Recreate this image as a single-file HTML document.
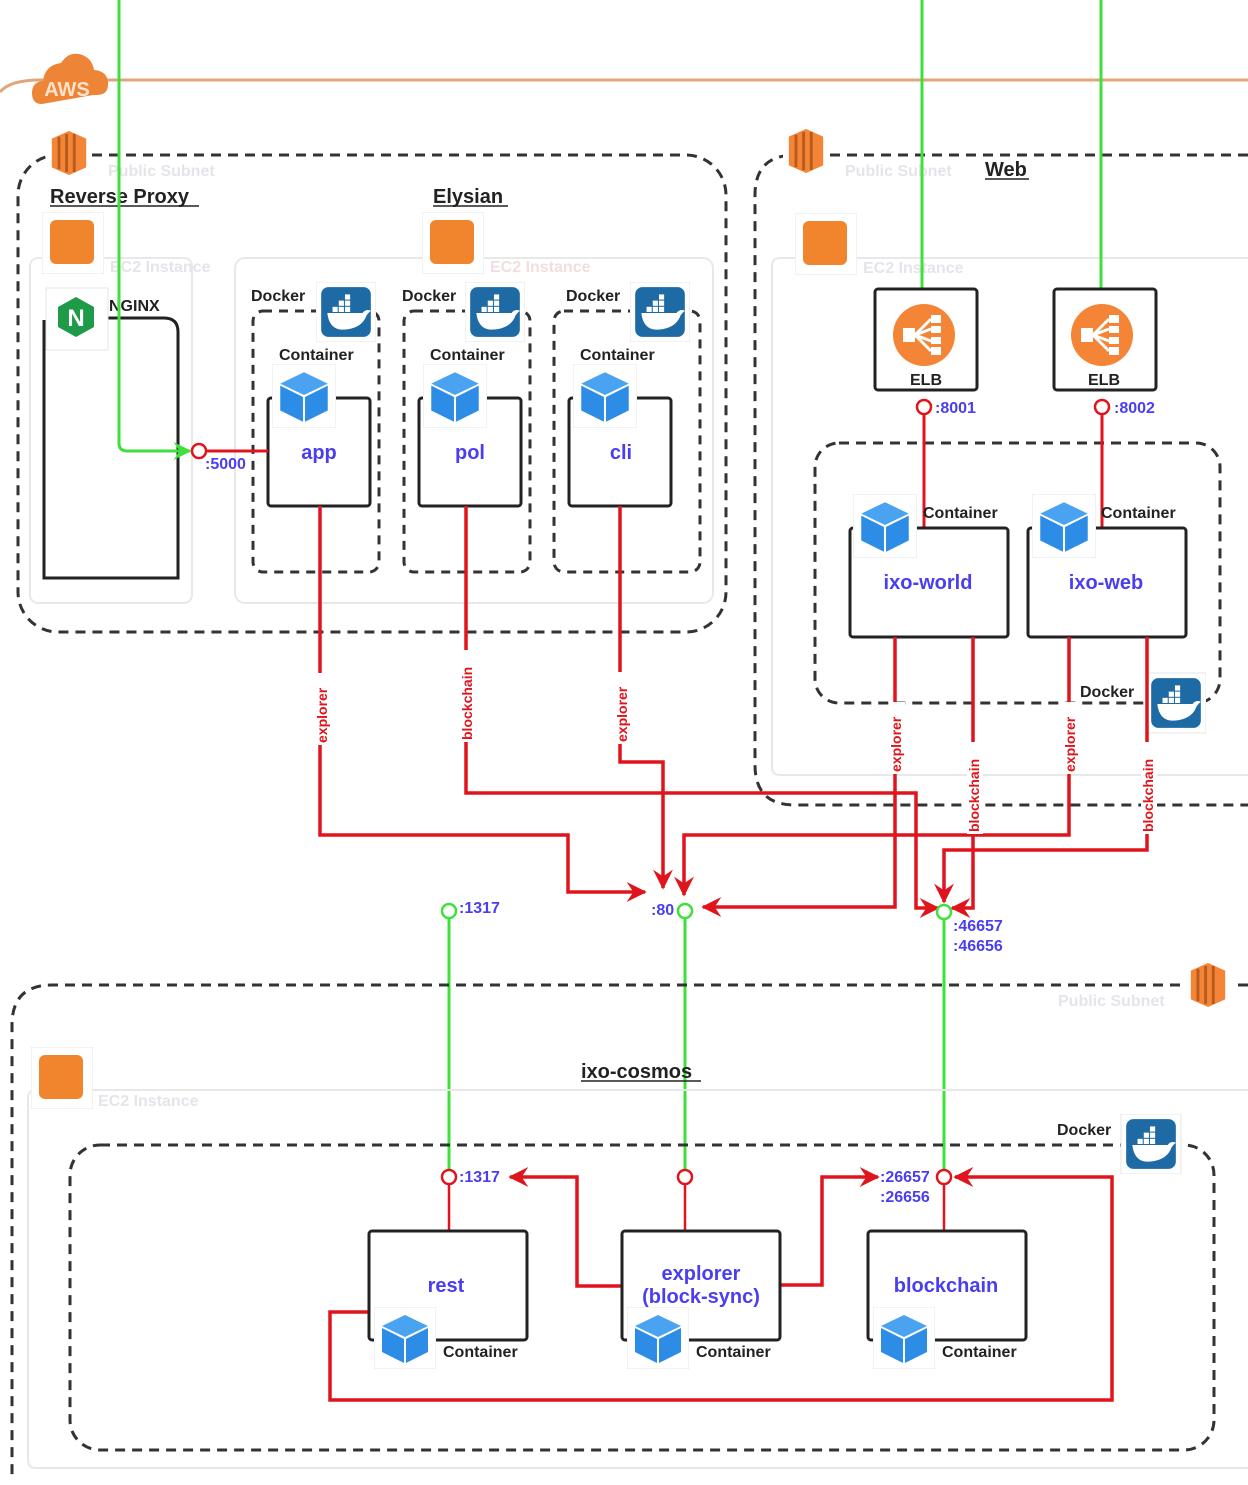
<!DOCTYPE html>
<html><head><meta charset="utf-8"><style>
html,body{margin:0;padding:0;background:#fff}
svg text{font-family:"Liberation Sans",Arial,sans-serif}
</style></head><body>
<svg width="1248" height="1480" viewBox="0 0 1248 1480" xmlns="http://www.w3.org/2000/svg">
<defs>
<symbol id="cube" viewBox="0 0 62 62">
<rect x="0" y="0" width="62" height="62" fill="#fff" stroke="#e6e6e6"/>
<polygon points="31,8 54,19 31,30 8,19" fill="#4aa3f0"/>
<polygon points="8,21 30,32 30,56 8,45" fill="#2d8de6"/>
<polygon points="32,32 54,21 54,45 32,56" fill="#2d8de6"/>
</symbol>
<symbol id="dock" viewBox="0 0 58 58">
<rect x="0" y="0" width="58" height="58" fill="#fff" stroke="#e6e6e6"/>
<rect x="5" y="5" width="48" height="48" rx="7" fill="#1d6aa5"/>
<path d="M11 30 h34 c3 -4 7 -3 8 -2 c-2 1 -3 3 -4 4 c-4 11 -14 14 -24 14 c-8 0 -13 -6 -14 -16z" fill="#fff"/>
<rect x="16" y="24" width="5" height="5" fill="#fff"/><rect x="22" y="24" width="5" height="5" fill="#fff"/><rect x="28" y="24" width="5" height="5" fill="#fff"/><rect x="22" y="18" width="5" height="5" fill="#fff"/><rect x="28" y="18" width="5" height="5" fill="#fff"/><rect x="28" y="12" width="5" height="5" fill="#fff"/>
</symbol>
<symbol id="ec2" viewBox="0 0 62 62">
<rect x="0" y="0" width="62" height="62" fill="#fff" stroke="#e6e6e6"/>
<rect x="8" y="8" width="44" height="44" rx="6" fill="#f0852d"/>
</symbol>
<symbol id="sub" viewBox="0 0 44 46">
<polygon points="4,8 22,0 40,8 40,38 22,46 4,38" fill="#f58536"/>
<rect x="10" y="6" width="3" height="34" fill="#b75a1c"/><rect x="18" y="3" width="3" height="40" fill="#b75a1c"/><rect x="26" y="3" width="3" height="40" fill="#b75a1c"/>
</symbol>
<symbol id="elb" viewBox="0 0 62 62">
<circle cx="31" cy="31" r="31" fill="#f58536"/>
<rect x="10" y="24" width="12" height="14" fill="#fff"/>
<path d="M22 31 L38 15 M22 31 L38 25 M22 31 L38 37 M22 31 L38 47" stroke="#fff" stroke-width="3"/>
<rect x="38" y="11" width="10" height="8" fill="#fff"/><rect x="38" y="22" width="10" height="7" fill="#fff"/><rect x="38" y="33" width="10" height="7" fill="#fff"/><rect x="38" y="43" width="10" height="8" fill="#fff"/>
</symbol>
<marker id="ar" viewBox="0 0 12 12" refX="11" refY="6" markerWidth="20" markerHeight="20" orient="auto" markerUnits="userSpaceOnUse"><path d="M0 0 L12 6 L0 12 L4 6z" fill="#e0141c"/></marker>
<marker id="ag" viewBox="0 0 12 12" refX="11" refY="6" markerWidth="18" markerHeight="18" orient="auto" markerUnits="userSpaceOnUse"><path d="M0 0 L12 6 L0 12 L4 6z" fill="#3ee03a"/></marker>
</defs>

<!-- AWS line -->
<path d="M0 92 Q10 80 40 80 L1248 80" stroke="#e0a57a" stroke-width="3" fill="none"/>
<path d="M42 104 q-10 0 -10 -11 q0 -11 11 -12 q2 -16 18 -18 q7 -11 18 -9 q13 3 15 16 q13 1 14 12 q1 13 -11 13 q-2 0 -4 0 z" fill="#ee8436"/>
<text x="67" y="96" font-size="20" font-weight="bold" fill="#fbe3cc" text-anchor="middle">AWS</text>

<!-- Left subnet -->
<rect x="18" y="155" width="708" height="477" rx="40" fill="none" stroke="#333" stroke-width="3" stroke-dasharray="10,7"/>
<rect x="30" y="258" width="162" height="345" rx="8" fill="none" stroke="#e8e8e8" stroke-width="2"/>
<rect x="235" y="258" width="478" height="345" rx="10" fill="none" stroke="#e8e8e8" stroke-width="2"/>
<rect x="46" y="130" width="46" height="46" fill="#fff"/>
<use href="#sub" x="48" y="130" width="42" height="46"/>
<text x="108" y="176" font-size="16" font-weight="bold" fill="#e4e4ea">Public Subnet</text>
<text x="50" y="203" font-size="20" font-weight="bold" fill="#222">Reverse Proxy</text>
<line x1="50" y1="206" x2="199" y2="206" stroke="#222" stroke-width="1.5"/>
<text x="433" y="203" font-size="20" font-weight="bold" fill="#222">Elysian</text>
<line x1="433" y1="206" x2="508" y2="206" stroke="#222" stroke-width="1.5"/>
<use href="#ec2" x="42" y="212" width="62" height="62"/>
<use href="#ec2" x="422" y="212" width="62" height="62"/>
<text x="110" y="272" font-size="16" font-weight="bold" fill="#e4e4ea">EC2 Instance</text>
<text x="490" y="272" font-size="16" font-weight="bold" fill="#f2dede">EC2 Instance</text>

<!-- NGINX -->
<path d="M44 320 L44 578 L178 578 L178 332 Q178 318 164 318 L108 318" fill="none" stroke="#222" stroke-width="3"/>
<rect x="46" y="288" width="62" height="62" fill="#fff" stroke="#e6e6e6"/>
<polygon points="76,297 94,307 94,327 76,337 58,327 58,307" fill="#1e9a48"/>
<text x="76" y="326" font-size="24" font-weight="bold" fill="#fff" text-anchor="middle">N</text>
<text x="109" y="311" font-size="16" font-weight="bold" fill="#222">NGINX</text>

<!-- Docker boxes -->
<g fill="none" stroke="#333" stroke-width="3" stroke-dasharray="9,7">
<rect x="253" y="311" width="126" height="261" rx="10"/>
<rect x="404" y="311" width="126" height="261" rx="10"/>
<rect x="554" y="311" width="146" height="261" rx="10"/>
</g>
<g font-size="16" font-weight="bold" fill="#222">
<text x="251" y="301">Docker</text><text x="402" y="301">Docker</text><text x="566" y="301">Docker</text>
<text x="279" y="360">Container</text><text x="430" y="360">Container</text><text x="580" y="360">Container</text>
</g>
<use href="#dock" x="316" y="282" width="60" height="60"/>
<use href="#dock" x="465" y="282" width="60" height="60"/>
<use href="#dock" x="630" y="282" width="60" height="60"/>
<g fill="#fff" stroke="#222" stroke-width="3">
<rect x="268" y="398" width="102" height="108" rx="3"/>
<rect x="419" y="398" width="102" height="108" rx="3"/>
<rect x="569" y="398" width="102" height="108" rx="3"/>
</g>
<use href="#cube" x="272" y="364" width="64" height="64"/>
<use href="#cube" x="423" y="364" width="64" height="64"/>
<use href="#cube" x="573" y="364" width="64" height="64"/>
<g font-size="20" font-weight="bold" fill="#4a3ef0" text-anchor="middle">
<text x="319" y="459">app</text><text x="470" y="459">pol</text><text x="621" y="459">cli</text>
</g>

<!-- Right subnet -->
<path d="M1248 155 L795 155 Q755 155 755 195 L755 765 Q755 805 795 805 L1248 805" fill="none" stroke="#333" stroke-width="3" stroke-dasharray="10,7"/>
<path d="M1248 258 L780 258 Q772 258 772 266 L772 767 Q772 775 780 775 L1248 775" fill="none" stroke="#e8e8e8" stroke-width="2"/>
<rect x="783" y="128" width="46" height="46" fill="#fff"/>
<use href="#sub" x="785" y="128" width="42" height="46"/>
<text x="845" y="176" font-size="16" font-weight="bold" fill="#e4e4ea">Public Subnet</text>
<text x="985" y="176" font-size="20" font-weight="bold" fill="#222">Web</text>
<line x1="985" y1="179" x2="1029" y2="179" stroke="#222" stroke-width="1.5"/>
<use href="#ec2" x="795" y="213" width="62" height="62"/>
<text x="863" y="273" font-size="16" font-weight="bold" fill="#e4e4ea">EC2 Instance</text>

<!-- green top lines -->
<g stroke="#3ee03a" stroke-width="3" fill="none">
<path d="M119 0 L119 443 Q119 451 127 451 L190 451" marker-end="url(#ag)"/>
<line x1="922" y1="0" x2="922" y2="290"/>
<line x1="1101" y1="0" x2="1101" y2="290"/>
</g>

<g fill="#fff" stroke="#222" stroke-width="3">
<rect x="875" y="289" width="102" height="101" rx="3"/>
<rect x="1054" y="289" width="102" height="101" rx="3"/>
</g>
<use href="#elb" x="893" y="304" width="62" height="62"/>
<use href="#elb" x="1071" y="304" width="62" height="62"/>
<text x="926" y="385" font-size="16" font-weight="bold" fill="#222" text-anchor="middle">ELB</text>
<text x="1104" y="385" font-size="16" font-weight="bold" fill="#222" text-anchor="middle">ELB</text>

<rect x="815" y="443" width="405" height="260" rx="24" fill="none" stroke="#333" stroke-width="3" stroke-dasharray="10,7"/>
<g stroke="#e0141c" stroke-width="3" fill="none">
<line x1="924" y1="414" x2="924" y2="528"/>
<line x1="1102" y1="414" x2="1102" y2="528"/>
<line x1="207" y1="451" x2="268" y2="451"/>
</g>
<g fill="#fff" stroke="#e0141c" stroke-width="2.5">
<circle cx="924" cy="407" r="7"/><circle cx="1102" cy="407" r="7"/><circle cx="199" cy="451" r="7"/>
</g>
<g font-size="16" font-weight="bold" fill="#4a3ef0">
<text x="935" y="413">:8001</text><text x="1114" y="413">:8002</text><text x="205" y="469">:5000</text>
</g>
<g fill="#fff" stroke="#222" stroke-width="3">
<rect x="850" y="528" width="158" height="109" rx="3"/>
<rect x="1028" y="528" width="158" height="109" rx="3"/>
</g>
<use href="#cube" x="853" y="494" width="64" height="64"/>
<use href="#cube" x="1032" y="494" width="64" height="64"/>
<g font-size="16" font-weight="bold" fill="#222">
<text x="923" y="518">Container</text><text x="1101" y="518">Container</text>
<text x="1080" y="697">Docker</text>
</g>
<g font-size="20" font-weight="bold" fill="#4a3ef0" text-anchor="middle">
<text x="928" y="589">ixo-world</text><text x="1106" y="589">ixo-web</text>
</g>
<use href="#dock" x="1146" y="672" width="60" height="62"/>

<!-- red connectors -->
<g stroke="#e0141c" stroke-width="3.5" fill="none">
<path d="M320 506 L320 835 L568 835 L568 892 L645 892" marker-end="url(#ar)"/>
<path d="M466 506 L466 793 L916 793 L916 908 L938 908" marker-end="url(#ar)"/>
<path d="M620 506 L620 762 L663 762 L663 888" marker-end="url(#ar)"/>
<path d="M895 637 L895 907 L703 907" marker-end="url(#ar)"/>
<path d="M973 637 L973 908 L952 908" marker-end="url(#ar)"/>
<path d="M1069 637 L1069 835 L684 835 L684 895" marker-end="url(#ar)"/>
<path d="M1147 637 L1147 850 L944 850 L944 902" marker-end="url(#ar)"/>
</g>
<g font-size="14" font-weight="bold" fill="#e0141c">
<g transform="translate(327,743) rotate(-90)"><rect x="-2" y="-12" width="72" height="16" fill="#fff"/><text>explorer</text></g>
<g transform="translate(472,740) rotate(-90)"><rect x="-2" y="-12" width="92" height="16" fill="#fff"/><text>blockchain</text></g>
<g transform="translate(627,742) rotate(-90)"><rect x="-2" y="-12" width="72" height="16" fill="#fff"/><text>explorer</text></g>
<g transform="translate(901,772) rotate(-90)"><rect x="-2" y="-12" width="72" height="16" fill="#fff"/><text>explorer</text></g>
<g transform="translate(979,832) rotate(-90)"><rect x="-2" y="-12" width="92" height="16" fill="#fff"/><text>blockchain</text></g>
<g transform="translate(1075,772) rotate(-90)"><rect x="-2" y="-12" width="72" height="16" fill="#fff"/><text>explorer</text></g>
<g transform="translate(1153,832) rotate(-90)"><rect x="-2" y="-12" width="92" height="16" fill="#fff"/><text>blockchain</text></g>
</g>

<!-- green lower lines -->
<g stroke="#3ee03a" stroke-width="3" fill="none">
<line x1="449" y1="918" x2="449" y2="1170"/>
<line x1="685" y1="918" x2="685" y2="1170"/>
<line x1="944" y1="919" x2="944" y2="1170"/>
</g>
<g fill="#fff" stroke="#3ee03a" stroke-width="2.5">
<circle cx="449" cy="911" r="7"/><circle cx="685" cy="911" r="7"/><circle cx="944" cy="912" r="7"/>
</g>
<g font-size="16" font-weight="bold" fill="#4a3ef0">
<text x="459" y="913">:1317</text><text x="651" y="915">:80</text>
<text x="953" y="931">:46657</text><text x="953" y="951">:46656</text>
</g>

<!-- bottom subnet -->
<path d="M1248 985 L52 985 Q12 985 12 1025 L12 1480" fill="none" stroke="#333" stroke-width="3" stroke-dasharray="10,7"/>
<path d="M1248 1090 L36 1090 Q28 1090 28 1098 L28 1460 Q28 1468 36 1468 L1248 1468" fill="none" stroke="#e8e8e8" stroke-width="2"/>
<rect x="1185" y="962" width="46" height="46" fill="#fff"/>
<use href="#sub" x="1187" y="962" width="42" height="46"/>
<text x="1058" y="1006" font-size="16" font-weight="bold" fill="#e4e4ea">Public Subnet</text>
<use href="#ec2" x="31" y="1047" width="62" height="62"/>
<text x="98" y="1106" font-size="16" font-weight="bold" fill="#e4e4ea">EC2 Instance</text>
<text x="581" y="1078" font-size="20" font-weight="bold" fill="#222">ixo-cosmos</text>
<line x1="581" y1="1081" x2="701" y2="1081" stroke="#222" stroke-width="1.5"/>
<rect x="70" y="1145" width="1144" height="305" rx="30" fill="none" stroke="#333" stroke-width="3" stroke-dasharray="10,7"/>
<text x="1057" y="1135" font-size="16" font-weight="bold" fill="#222">Docker</text>
<use href="#dock" x="1120" y="1114" width="62" height="60"/>

<g stroke="#e0141c" stroke-width="3.5" fill="none">
<path d="M622 1286 L577 1286 L577 1177 L510 1177" marker-end="url(#ar)"/>
<path d="M780 1285 L822 1285 L822 1177 L878 1177" marker-end="url(#ar)"/>
<path d="M369 1312 L330 1312 L330 1400 L1112 1400 L1112 1177 L955 1177" marker-end="url(#ar)"/>
</g>
<g stroke="#e0141c" stroke-width="2.5" fill="none">
<line x1="449" y1="1184" x2="449" y2="1231"/>
<line x1="685" y1="1184" x2="685" y2="1231"/>
<line x1="944" y1="1184" x2="944" y2="1231"/>
</g>
<g fill="#fff" stroke="#e0141c" stroke-width="2.5">
<circle cx="449" cy="1177" r="7"/><circle cx="685" cy="1177" r="7"/><circle cx="944" cy="1177" r="7"/>
</g>
<g font-size="16" font-weight="bold" fill="#4a3ef0">
<text x="459" y="1182">:1317</text>
<text x="880" y="1182">:26657</text><text x="880" y="1202">:26656</text>
</g>
<g fill="#fff" stroke="#222" stroke-width="3">
<rect x="369" y="1231" width="158" height="109" rx="3"/>
<rect x="622" y="1231" width="158" height="109" rx="3"/>
<rect x="868" y="1231" width="158" height="109" rx="3"/>
</g>
<use href="#cube" x="374" y="1307" width="62" height="62"/>
<use href="#cube" x="627" y="1307" width="62" height="62"/>
<use href="#cube" x="873" y="1307" width="62" height="62"/>
<g font-size="16" font-weight="bold" fill="#222">
<text x="443" y="1357">Container</text><text x="696" y="1357">Container</text><text x="942" y="1357">Container</text>
</g>
<g font-size="20" font-weight="bold" fill="#4a3ef0" text-anchor="middle">
<text x="446" y="1292">rest</text>
<text x="701" y="1280">explorer</text><text x="701" y="1303">(block-sync)</text>
<text x="946" y="1292">blockchain</text>
</g>
</svg>
</body></html>
